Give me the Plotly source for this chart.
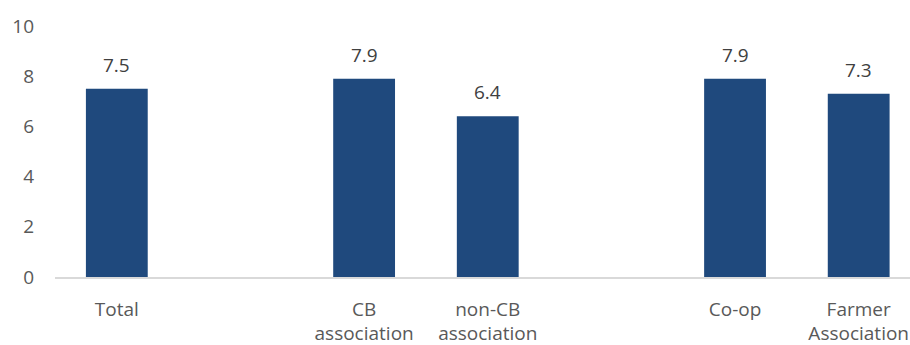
import plotly.graph_objects as go

# Data
slots = ["Total", " ", "CB<br>association", "non-CB<br>association", "  ", "Co-op", "Farmer<br>Association"]
categories = ["Total", "CB<br>association", "non-CB<br>association", "Co-op", "Farmer<br>Association"]
values = [7.5, 7.9, 6.4, 7.9, 7.3]
y_ticks = [0, 2, 4, 6, 8, 10]

FONT = "'Open Sans', Lato, sans-serif"
BAR = "#1F497D"
FS = 19

fig = go.Figure()
fig.add_trace(go.Bar(
    x=categories, y=values, width=0.5,
    marker=dict(color=BAR, line=dict(width=0)),
    hoverinfo="skip",
))

for c, v in zip(categories, values):
    fig.add_annotation(x=c, y=v, text=f"{v:.1f}", showarrow=False,
                       yanchor="bottom", yshift=9,
                       font=dict(family=FONT, size=FS, color="#404040"))

fig.update_layout(
    width=910, height=345,
    margin=dict(l=55, r=0, t=26, b=68),
    paper_bgcolor="white", plot_bgcolor="white",
    showlegend=False,
    font=dict(family=FONT, size=FS, color="#595959"),
    xaxis=dict(
        type="category", categoryorder="array", categoryarray=slots,
        range=[-0.5, 6.415],
        showline=True, linecolor="#D9D9D9", linewidth=1.5,
        showgrid=False, zeroline=False, ticks="",
        ticklabelstandoff=14,
        tickfont=dict(family=FONT, size=FS, color="#595959"),
    ),
    yaxis=dict(
        range=[0, 10], tickvals=y_ticks,
        showgrid=False, zeroline=False, showline=False, ticks="",
        ticklabelstandoff=20,
        tickfont=dict(family=FONT, size=FS, color="#595959"),
    ),
)

fig.write_html("out.html")
